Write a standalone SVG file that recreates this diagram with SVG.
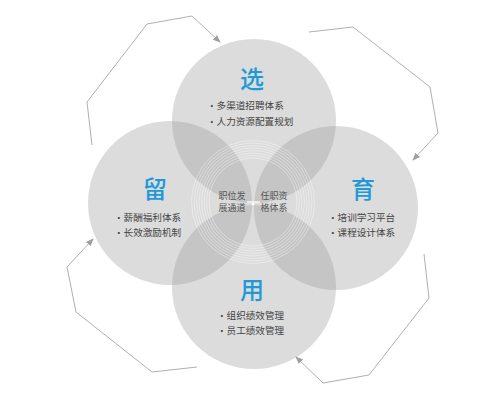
<svg xmlns="http://www.w3.org/2000/svg" width="491" height="408" viewBox="0 0 491 408">
<style>
.c{fill:#9a9a9a;fill-opacity:0.35}
.t{font-family:"Noto Sans CJK SC","Noto Sans",sans-serif;font-size:24px;font-weight:500;fill:#1e9ad8;text-anchor:middle}
.b{font-family:"Noto Sans CJK SC","Noto Sans",sans-serif;font-size:9.6px;fill:#444}
.m{font-family:"Noto Sans CJK SC","Noto Sans",sans-serif;font-size:9px;fill:#555;text-anchor:middle}
.a{fill:none;stroke:#b0b0b0;stroke-width:1;marker-end:url(#ah)}
.r{fill:none;stroke:#ffffff;stroke-opacity:0.6;stroke-width:0.6}
</style>
<defs>
<marker id="ah" markerWidth="8" markerHeight="8" refX="7" refY="4" orient="auto" markerUnits="userSpaceOnUse">
<path d="M0,0.8 L8,4 L0,7.2 Z" fill="#a0a0a0"/>
</marker>
</defs>
<rect width="491" height="408" fill="#ffffff"/>
<g id="node-xuan">
<circle class="c" cx="254" cy="121" r="82"/>
</g>
<g id="node-liu">
<circle class="c" cx="170" cy="203" r="82"/>
</g>
<g id="node-yu">
<circle class="c" cx="336" cy="208" r="82"/>
</g>
<g id="node-yong">
<circle class="c" cx="254" cy="287" r="82"/>
</g>
<g id="rings">
<circle class="r" cx="253" cy="202" r="44"/>
<circle class="r" cx="253" cy="202" r="46.5"/>
<circle class="r" cx="253" cy="202" r="49"/>
<circle class="r" cx="253" cy="202" r="51.5"/>
<circle class="r" cx="253" cy="202" r="54"/>
<circle class="r" cx="253" cy="202" r="56.5"/>
<circle class="r" cx="253" cy="202" r="59"/>
<circle class="r" cx="253" cy="202" r="61.5"/>
<line x1="247" y1="202" x2="260" y2="202" stroke="#ffffff" stroke-width="1.5" stroke-opacity="0.85"/>
</g>
<g id="labels-xuan">
<text class="t" x="252" y="88">选</text>
<text class="b" x="207" y="108.5">•多渠道招聘体系</text>
<text class="b" x="207" y="124.5">•人力资源配置规划</text>
</g>
<g id="labels-liu">
<text class="t" x="155" y="198">留</text>
<text class="b" x="114" y="220.5">•薪酬福利体系</text>
<text class="b" x="114" y="235.5">•长效激励机制</text>
</g>
<g id="labels-yu">
<text class="t" x="363" y="198">育</text>
<text class="b" x="328" y="220.5">•培训学习平台</text>
<text class="b" x="328" y="235.5">•课程设计体系</text>
</g>
<g id="labels-yong">
<text class="t" x="252" y="299">用</text>
<text class="b" x="217" y="318.5">•组织绩效管理</text>
<text class="b" x="217" y="333.5">•员工绩效管理</text>
</g>
<g id="center">
<text class="m" x="232" y="198.5">职位发</text>
<text class="m" x="232" y="210.5">展通道</text>
<text class="m" x="274" y="198.5">任职资</text>
<text class="m" x="274" y="210.5">格体系</text>
</g>
<g id="connectors">
<polyline class="a" points="92,145 87,102 147,24 192,16 220,42"/>
<polyline class="a" points="309,32 353,27 430,87 438,133 413,160"/>
<polyline class="a" points="424,254 429,298 369,375 323,383 296,357"/>
<polyline class="a" points="197,367 152,372 76,312 67,267 93,239"/>
</g>
</svg>
